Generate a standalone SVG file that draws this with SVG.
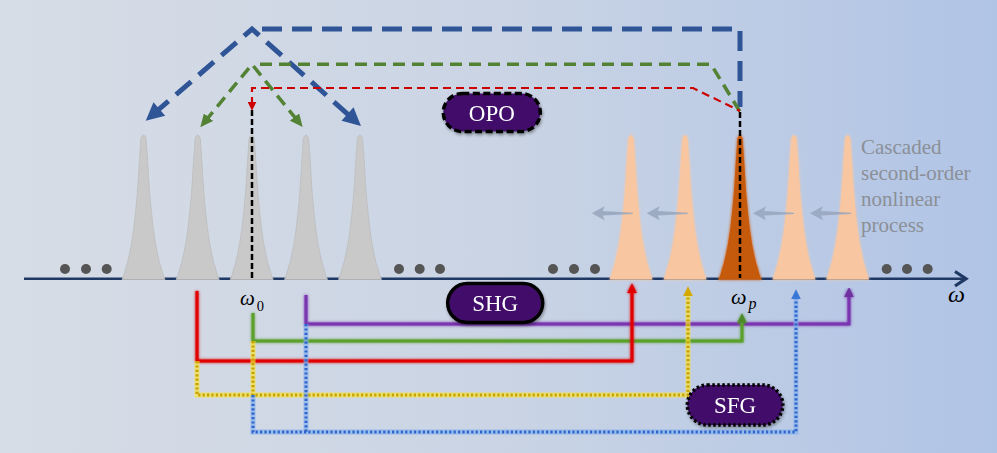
<svg xmlns="http://www.w3.org/2000/svg" xmlns:xlink="http://www.w3.org/1999/xlink" width="997" height="453" viewBox="0 0 997 453">
<style>
.pilltxt{font-family:"Liberation Serif","Times New Roman",serif;font-size:23px;fill:#ffffff;text-anchor:middle}
.pill{fill:#43116b;stroke:#000000;stroke-width:3.5}
.dot{fill:#555555}
.gpeak{fill:#c9c9c9;stroke:#bdbdbd;stroke-width:0.8}
.opeak{fill:#f8c7a2}
.dpeak{fill:#c55a11}
.garrow{fill:#97a4bc;opacity:0.85}
.glowline{fill:none;stroke-width:3;stroke-linejoin:miter}
.dotted{fill:none;stroke-width:3;stroke-dasharray:2.2 2.2}
.halo{fill:none;stroke-width:5;opacity:0.7}
.cascade{font-family:"Liberation Serif","Times New Roman",serif;font-size:21px;fill:#8b8f97}
.omega{font-family:"Liberation Serif","Times New Roman",serif;font-style:italic;fill:#000000}
</style>
<defs>
<linearGradient id="bg" x1="0" y1="0" x2="1" y2="0">
<stop offset="0" stop-color="#d7dde6"/>
<stop offset="0.5" stop-color="#cad4e4"/>
<stop offset="1" stop-color="#b0c4e6"/>
</linearGradient>
<path id="peak" d="M-21.5,0 L-19.5,-5 L-17.7,-11.5 L-16,-17 L-14.2,-25 L-12,-36 L-9.7,-51.5 L-8,-67 L-6.3,-85 L-5.2,-101 L-4.2,-118 L-3.5,-128 L-3,-135 L-2.6,-141 Q0,-148 2.6,-141 L3,-135 L3.5,-128 L4.2,-118 L5.2,-101 L6.3,-85 L8,-67 L9.7,-51.5 L12,-36 L14.2,-25 L16,-17 L17.7,-11.5 L19.5,-5 L21.5,0 Z"/>
<path id="larrow" d="M0,0 L13,-7 L11,-2.2 L41,-0.6 L41,0.6 L11,2.2 L13,7 Z"/>
<filter id="halo" x="-30%" y="-10%" width="160%" height="120%">
<feGaussianBlur in="SourceGraphic" stdDeviation="1.6" result="b"/>
<feMerge><feMergeNode in="b"/><feMergeNode in="SourceGraphic"/></feMerge>
</filter>
<filter id="glow" x="-5%" y="-20%" width="110%" height="140%">
<feGaussianBlur in="SourceGraphic" stdDeviation="1.5" result="b"/>
<feMerge><feMergeNode in="b"/><feMergeNode in="SourceGraphic"/></feMerge>
</filter>
<filter id="shadow" x="-20%" y="-30%" width="140%" height="170%">
<feDropShadow dx="1" dy="2" stdDeviation="1.5" flood-color="#000000" flood-opacity="0.35"/>
</filter>
<marker id="mBlue" markerUnits="userSpaceOnUse" markerWidth="20" markerHeight="18" viewBox="0 0 18 18" refX="8" refY="9" orient="auto-start-reverse"><path d="M0,0 L18,9 L0,18 Z" fill="#2f5597"/></marker>
<marker id="mGreen" markerUnits="userSpaceOnUse" markerWidth="13" markerHeight="12" viewBox="0 0 12 11" refX="5" refY="5.5" orient="auto-start-reverse"><path d="M0,0 L12,5.5 L0,11 Z" fill="#548235"/></marker>
<marker id="mRedTop" markerUnits="userSpaceOnUse" markerWidth="9" markerHeight="9" viewBox="0 0 8 8" refX="3" refY="4" orient="auto-start-reverse"><path d="M0,0 L8,4 L0,8 Z" fill="#cc0000"/></marker>
<marker id="aRed" markerUnits="userSpaceOnUse" markerWidth="10" markerHeight="10" viewBox="0 0 9 9" refX="3" refY="4.5" orient="auto"><path d="M0,0 L9,4.5 L0,9 Z" fill="#e00000"/></marker>
<marker id="aGreen" markerUnits="userSpaceOnUse" markerWidth="10" markerHeight="10" viewBox="0 0 9 9" refX="3" refY="4.5" orient="auto"><path d="M0,0 L9,4.5 L0,9 Z" fill="#4e8a2a"/></marker>
<marker id="aPurple" markerUnits="userSpaceOnUse" markerWidth="10" markerHeight="10" viewBox="0 0 9 9" refX="3" refY="4.5" orient="auto"><path d="M0,0 L9,4.5 L0,9 Z" fill="#7030a0"/></marker>
<marker id="aYellow" markerUnits="userSpaceOnUse" markerWidth="10" markerHeight="10" viewBox="0 0 9 9" refX="3" refY="4.5" orient="auto"><path d="M0,0 L9,4.5 L0,9 Z" fill="#d4a800"/></marker>
<marker id="aBlue" markerUnits="userSpaceOnUse" markerWidth="10" markerHeight="10" viewBox="0 0 9 9" refX="3" refY="4.5" orient="auto"><path d="M0,0 L9,4.5 L0,9 Z" fill="#3a78d8"/></marker>
</defs>

<rect x="0" y="0" width="997" height="453" fill="url(#bg)"/>

<g id="axis">
<line x1="24" y1="278.7" x2="963" y2="278.7" stroke="#1f3864" stroke-width="2.6"/>
<polyline points="955,271.5 966,278.7 955,286" fill="none" stroke="#1f3864" stroke-width="3.2" stroke-linejoin="miter"/>
</g>

<g id="dots">
<circle class="dot" cx="65" cy="269" r="5"/><circle class="dot" cx="86" cy="269" r="5"/><circle class="dot" cx="106.7" cy="269" r="5"/>
<circle class="dot" cx="399" cy="269" r="5"/><circle class="dot" cx="419.7" cy="269" r="5"/><circle class="dot" cx="440" cy="269" r="5"/>
<circle class="dot" cx="553" cy="269" r="5"/><circle class="dot" cx="574" cy="269" r="5"/><circle class="dot" cx="595" cy="269" r="5"/>
<circle class="dot" cx="886.7" cy="269" r="5"/><circle class="dot" cx="907" cy="269" r="5"/><circle class="dot" cx="927.7" cy="269" r="5"/>
</g>

<g id="peaks">
<use href="#peak" class="gpeak" x="143.5" y="279.5"/>
<use href="#peak" class="gpeak" x="197.7" y="279.5"/>
<use href="#peak" class="gpeak" x="251.7" y="279.5"/>
<use href="#peak" class="gpeak" x="306" y="279.5"/>
<use href="#peak" class="gpeak" x="360" y="279.5"/>
<g filter="url(#halo)">
<use href="#peak" class="opeak" x="631" y="279.5"/>
<use href="#peak" class="opeak" x="685" y="279.5"/>
<use href="#peak" fill="#e9935a" x="740" y="279.5"/>
<use href="#peak" class="dpeak" x="740" y="279.5"/>
<use href="#peak" class="opeak" x="794" y="279.5"/>
<use href="#peak" class="opeak" x="847.7" y="279.5"/>
</g>
</g>

<g id="cascade-arrows">
<use href="#larrow" class="garrow" x="591.7" y="213.3"/>
<use href="#larrow" class="garrow" x="646.7" y="213.3"/>
<use href="#larrow" class="garrow" x="753" y="213.3"/>
<use href="#larrow" class="garrow" x="810" y="213.3"/>
</g>

<g id="connectors">
<path d="M153.3,114.2 L252,29 L353.5,119.4" fill="none" stroke="#2f5597" stroke-width="5" stroke-dasharray="20 10" marker-start="url(#mBlue)" marker-end="url(#mBlue)"/>
<path d="M262,29 L740,29 L740,107" fill="none" stroke="#2f5597" stroke-width="5" stroke-dasharray="20 10"/>
<path d="M205.1,121.3 L252,64.3 L297.9,121.2" fill="none" stroke="#548235" stroke-width="3.5" stroke-dasharray="12 7" marker-start="url(#mGreen)" marker-end="url(#mGreen)"/>
<path d="M260,64.3 L711,64.3 L740,111.7" fill="none" stroke="#548235" stroke-width="3.5" stroke-dasharray="12 7"/>
<path d="M252,105 L252,88 L693,88 L740,111" fill="none" stroke="#cc0000" stroke-width="2.2" stroke-dasharray="8 5" marker-start="url(#mRedTop)"/>
<path d="M252,110 L252,278" fill="none" stroke="#000000" stroke-width="2.5" stroke-dasharray="6 3"/>
<path d="M740,112 L740,278" fill="none" stroke="#000000" stroke-width="2.5" stroke-dasharray="6 3"/>
<path d="M306,295 L306,324 L849,324 L849,294" class="glowline" stroke="#7a35b0" filter="url(#glow)" marker-end="url(#aPurple)"/>
<path d="M253,313 L253,341 L742,341 L742,320" class="glowline" stroke="#5aa02c" filter="url(#glow)" marker-end="url(#aGreen)"/>
<path d="M197,291 L197,361 L632,361 L632,290" class="glowline" stroke="#e00000" filter="url(#glow)" marker-end="url(#aRed)"/>
<path d="M197,361 L197,395 L688,395 L688,293 M253,341 L253,395" class="halo" stroke="#f6e43c"/>
<path d="M197,361 L197,395 L688,395 L688,293" class="dotted" stroke="#c9a000" marker-end="url(#aYellow)"/>
<path d="M253,341 L253,395" class="dotted" stroke="#c9a000"/>
<path d="M253,395 L253,432 L796,432 L796,296 M306,324 L306,432" class="halo" stroke="#86b2f2"/>
<path d="M253,395 L253,432 L796,432 L796,296" class="dotted" stroke="#2f66c8" marker-end="url(#aBlue)"/>
<path d="M306,324 L306,432" class="dotted" stroke="#2f66c8"/>
</g>

<g id="node-OPO" filter="url(#shadow)">
<rect class="pill" x="443.3" y="93.5" width="97" height="38" rx="19" stroke-dasharray="7 3.5"/>
<text class="pilltxt" x="491.8" y="120.5">OPO</text>
</g>
<g id="node-SHG" filter="url(#shadow)">
<rect class="pill" x="447.7" y="283.5" width="95" height="39" rx="19.5"/>
<text class="pilltxt" x="495.2" y="311">SHG</text>
</g>
<g id="node-SFG" filter="url(#shadow)">
<rect class="pill" x="687.3" y="385" width="95.5" height="40" rx="20" stroke-width="3" stroke-dasharray="2.5 2.5"/>
<text class="pilltxt" x="735" y="413">SFG</text>
</g>

<g id="labels">
<text class="omega" x="240" y="305" font-size="21">ω<tspan font-style="normal" font-size="14.5" dx="2" dy="5.5">0</tspan></text>
<text class="omega" x="731" y="304" font-size="22">ω<tspan font-size="16" dx="2" dy="5">p</tspan></text>
<text class="omega" x="948" y="302" font-size="24">ω</text>
<text class="cascade" x="861" y="154">Cascaded</text>
<text class="cascade" x="861" y="180">second-order</text>
<text class="cascade" x="861" y="206">nonlinear</text>
<text class="cascade" x="861" y="232">process</text>
</g>
</svg>
